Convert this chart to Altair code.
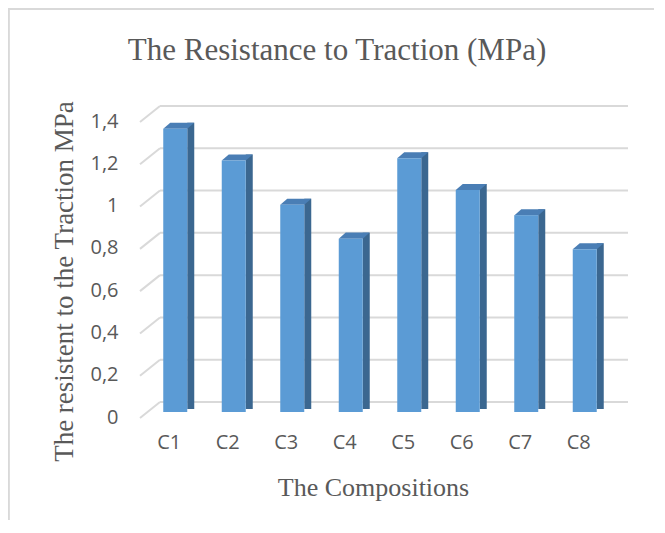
import altair as alt
import pandas as pd

categories = ["C1", "C2", "C3", "C4", "C5", "C6", "C7", "C8"]
values = [1.34, 1.19, 0.98, 0.82, 1.20, 1.05, 0.93, 0.77]
tick_values = [0, 0.2, 0.4, 0.6, 0.8, 1.0, 1.2, 1.4]
title_text = ["The Resistance to Traction (MPa)"]

df = pd.DataFrame({"cat": categories, "val": values})
grid_df = pd.DataFrame({"val": tick_values})
title_df = pd.DataFrame({"t": title_text})

W, H = 468, 296
FRONT = "#5B9BD5"
SIDE = "#3B6790"
TOP = "#4A7EB5"
GRID = "#d9d9d9"
TXT = "#595959"

y_scale = alt.Scale(domain=[0, 1.4], nice=False)
x_enc = alt.X(
    "cat:N",
    sort=categories,
    scale=alt.Scale(paddingInner=0, paddingOuter=0),
    title="The Compositions",
    axis=alt.Axis(
        labelAngle=0, labelPadding=20, labelOffset=-6, domain=False, ticks=False,
        grid=False, labelFont="Open Sans", labelFontSize=20, labelColor=TXT,
        titleFont="Liberation Serif", titleFontSize=26, titleFontWeight="normal",
        titleColor=TXT, titleX=227, titleY=75, titleBaseline="middle",
    ),
)
y_enc = alt.Y(
    "val:Q", scale=y_scale, title="The resistent to the Traction MPa",
    axis=alt.Axis(
        values=tick_values, format="~g", labelExpr="replace(datum.label, '.', ',')",
        grid=False, domain=False, ticks=False, tickSize=0, labelPadding=28, labelOffset=5,
        labelFont="Open Sans", labelFontSize=20, labelColor=TXT,
        titleFont="Liberation Serif", titleFontSize=27, titleFontWeight="normal",
        titleColor=TXT, titleX=-82, titleY=165, titleBaseline="middle", titleAngle=270,
    ),
)

# back-wall gridlines
back_grid = alt.Chart(grid_df).mark_rule(color=GRID, strokeWidth=2, yOffset=-10, y2Offset=-10).encode(
    y=y_enc,
    y2=alt.Y2("val:Q"),
    x=alt.value(14),
    x2=alt.value(W + 14),
)
# side-wall diagonal gridlines
diag_grid = alt.Chart(grid_df).mark_rule(color=GRID, strokeWidth=2, yOffset=6, y2Offset=-10).encode(
    y=y_enc,
    y2=alt.Y2("val:Q"),
    x=alt.value(-6),
    x2=alt.value(14),
)

side = alt.Chart(df).mark_bar(width=7, xOffset=15.5, yOffset=-6, y2Offset=-3, color=SIDE).encode(
    x=x_enc,
    y=y_enc,
    y2=alt.datum(0),
)

top = alt.Chart(df).mark_point(
    shape="M -1 0.194 L 0.548 0.194 L 1 -0.194 L -0.548 -0.194 Z",
    size=961, filled=True, opacity=1, color=TOP, strokeWidth=0, xOffset=3.5, yOffset=-3,
).encode(
    x=x_enc,
    y=y_enc,
)

front = alt.Chart(df).mark_bar(width=24, color=FRONT).encode(
    x=x_enc,
    y=y_enc,
)

title = alt.Chart(title_df).mark_text(
    font="Liberation Serif", fontSize=31, color=TXT, align="center", baseline="alphabetic"
).encode(
    text="t:N",
    x=alt.value(337 - 146),
    y=alt.value(60 - 116),
)

border_top = alt.Chart(grid_df).mark_rule(color=GRID, strokeWidth=1.5).encode(
    x=alt.value(-138), x2=alt.value(W + 40), y=alt.value(-107)
)
border_left = alt.Chart(grid_df).mark_rule(color=GRID, strokeWidth=1.5).encode(
    x=alt.value(-137.5), y=alt.value(-107), y2=alt.value(H + 110)
)

chart = alt.layer(border_top, border_left, back_grid, diag_grid, side, top, front, title).properties(
    width=W,
    height=H,
    background="white",
    autosize=alt.AutoSizeParams(type="none"),
    padding={"left": 138, "top": 108, "right": 40, "bottom": 108},
).configure_view(stroke=None)

chart.save("out.html", embed_options={"renderer": "svg", "actions": False})
